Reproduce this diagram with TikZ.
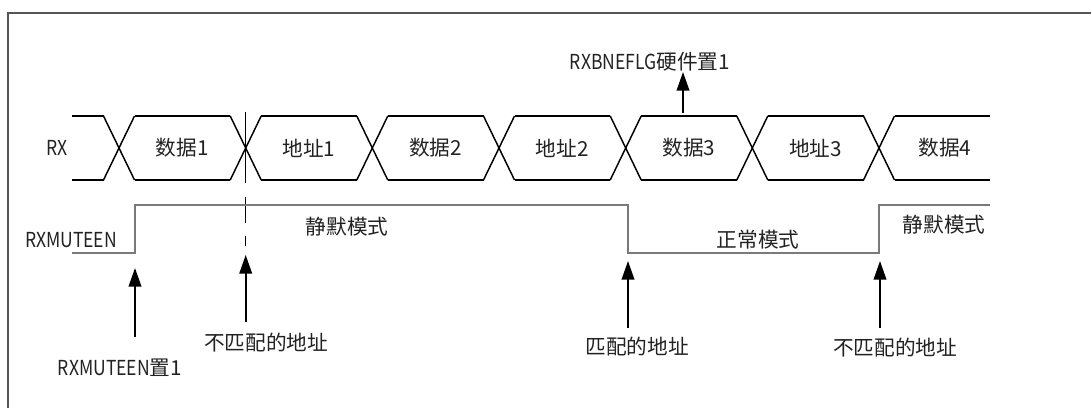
\documentclass[tikz,border=0pt]{standalone}
\usepackage{xcolor}
\usepackage{fontspec}
\usepackage{tikz}
\usetikzlibrary{arrows.meta}
\setmainfont{Noto Sans CJK SC}
\newfontfamily\lat[FakeStretch=0.85]{Noto Sans CJK SC}
\definecolor{framegray}{HTML}{555555}
\definecolor{mutegray}{HTML}{7A7A7A}
\definecolor{txt}{HTML}{222222}
\tikzset{
  lbl/.style={inner sep=0pt, text=txt, font=\fontsize{15.5pt}{18pt}\selectfont},
  bus/.style={line width=1.1pt, black},
  upar/.style={line width=1.3pt, black, -{Triangle[length=14pt,width=9.5pt]}}
}

\begin{document}
\begin{tikzpicture}[x=0.75pt,y=-0.75pt]
  \useasboundingbox (0,0) rectangle (1091,408);
  % frame (cut off on the right and bottom)
  \draw[framegray, line width=1.5pt] (8,408) -- (8,13) -- (1091,13);

  % RX bus
  \def\h{15.5}
  \draw[bus] (72,116) -- (119-\h,116);
  \draw[bus] (72,180) -- (119-\h,180);
  \foreach \c in {119,245.7,372.3,499,625.7,752.3,879} {
    \draw[bus] (\c-\h,116) -- (\c+\h,180);
    \draw[bus] (\c-\h,180) -- (\c+\h,116);
  }
  \foreach \a/\b in {119/245.7,245.7/372.3,372.3/499,499/625.7,625.7/752.3,752.3/879} {
    \draw[bus] (\a+\h,116) -- (\b-\h,116);
    \draw[bus] (\a+\h,180) -- (\b-\h,180);
  }
  \draw[bus] (879+\h,116) -- (990,116);
  \draw[bus] (879+\h,180) -- (990,180);
  \foreach \t/\x [count=\i] in {数据1/182.3,地址1/309,数据2/435.7,地址2/562.3,数据3/689,地址3/815.7,数据4/945} {
    \node[lbl] (f\i) at (\x,148) {\t};
  }
  \node[lbl] (rx) at (57,148) {\lat RX};

  % mismatched address marker
  \draw[line width=1.1pt, dash pattern=on 53pt off 11pt on 19pt off 10pt on 7.5pt] (245.7,112) -- (245.7,247);

  % RXMUTEEN
  \draw[mutegray, line width=1.3pt] (72,253) -- (135,253) -- (135,205) -- (628,205)
    -- (628,253) -- (879,253) -- (879,205) -- (990,205);
  \node[lbl] (mute) at (71,240) {\lat RXMUTEEN};
  \node[lbl] (mode1) at (347,227) {静默模式};
  \node[lbl] (mode2) at (758,240) {正常模式};
  \node[lbl] (mode3) at (944,225) {静默模式};

  % events
  \node[lbl] (ev1) at (120,368) {\lat RXMUTEEN\normalfont 置1};
  \node[lbl] (ev2) at (266,343) {不匹配的地址};
  \node[lbl] (ev3) at (637,347) {匹配的地址};
  \node[lbl] (ev4) at (895,348) {不匹配的地址};
  \node[lbl] (ev5) at (650,62) {\lat RXBNEFLG\normalfont 硬件置1};

  \coordinate (a1) at (135,337); \coordinate (b1) at (135,268);
  \coordinate (a2) at (245.7,322); \coordinate (b2) at (245.7,255);
  \coordinate (a3) at (628,328); \coordinate (b3) at (628,261);
  \coordinate (a4) at (880,328); \coordinate (b4) at (880,261);
  \coordinate (a5) at (683,113); \coordinate (b5) at (683,72);
  \foreach \i in {1,...,5} {
    \draw[upar] (a\i) -- (b\i);
  }
\end{tikzpicture}
\end{document}
